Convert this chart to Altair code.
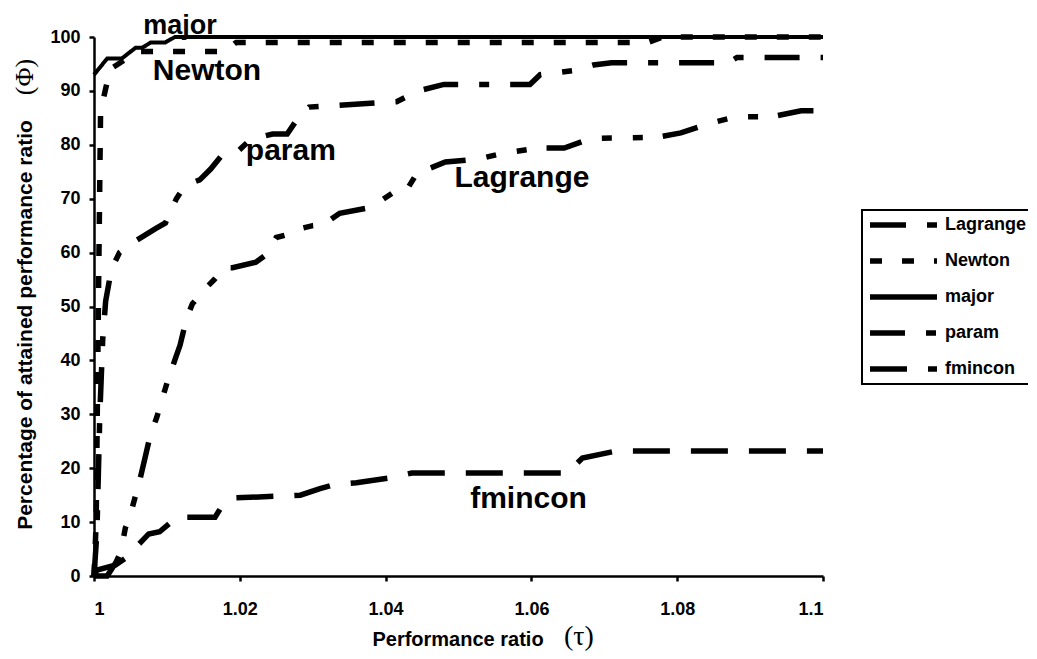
import altair as alt
import pandas as pd

methods = ["Lagrange", "Newton", "major", "param", "fmincon"]

major_tau = [1.0, 1.0018, 1.0038, 1.0057, 1.0066, 1.0078, 1.0098, 1.0111, 1.1]
major_phi = [93, 96, 96, 98, 98, 99, 99, 100, 100]

newton_tau = [1.0, 1.0003, 1.0006, 1.0009, 1.0012, 1.0022, 1.0045, 1.006, 1.018, 1.0195, 1.076, 1.078, 1.1]
newton_phi = [0, 10, 50, 86, 88, 94, 96, 97.3, 97.3, 99, 99, 100, 100]

param_tau = [1.0, 1.0004, 1.0008, 1.0012, 1.0016, 1.0024, 1.0035, 1.0055, 1.0085, 1.0098,
             1.0113, 1.0125, 1.0145, 1.016, 1.0175, 1.0195, 1.0215, 1.0245, 1.0265, 1.028,
             1.0295, 1.0415, 1.0445, 1.048, 1.0598, 1.0612, 1.066, 1.0685, 1.071, 1.087,
             1.0882, 1.1]
param_phi = [0, 8, 30, 44, 51, 57, 60, 62, 64.5, 65.5,
             70, 72.5, 73.5, 75.5, 78, 78.5, 81, 82, 82, 85,
             87, 88, 90, 91.2, 91.2, 93, 93.8, 94.8, 95.2, 95.2,
             96.2, 96.2]

lagrange_tau = [1.0, 1.0018, 1.0023, 1.003, 1.0037, 1.0043, 1.0049, 1.0058, 1.0062, 1.007,
                1.0077, 1.0086, 1.0097, 1.0101, 1.0113, 1.0118, 1.0127, 1.0135, 1.0154, 1.0165,
                1.0179, 1.019, 1.0222, 1.0235, 1.025, 1.027, 1.0275, 1.03, 1.0315, 1.0337,
                1.038, 1.0411, 1.0427, 1.0443, 1.0482, 1.0525, 1.056, 1.061, 1.0645, 1.0682,
                1.0772, 1.0805, 1.0845, 1.088, 1.093, 1.097, 1.1]
lagrange_phi = [0, 0, 1, 2.5, 4.6, 8.9, 11, 15.4, 17.3, 21.9,
                26, 29.4, 34.4, 36.2, 40.9, 42.8, 47.8, 50.5, 53.5, 55,
                57.2, 57.2, 58.2, 59.5, 62.8, 63.5, 64.2, 65, 65.2, 67.3,
                68.4, 71.2, 71.2, 74.7, 76.8, 77.3, 78.4, 79.4, 79.4, 81.2,
                81.4, 82.2, 84, 85.2, 85.2, 86.3, 86.3]

fmincon_tau = [1.0, 1.0004, 1.0029, 1.0045, 1.0063, 1.0075, 1.009, 1.0104, 1.0112, 1.0166,
               1.0178, 1.0195, 1.0251, 1.0283, 1.031, 1.0328, 1.036, 1.0406, 1.0436, 1.0649,
               1.067, 1.0717, 1.1]
fmincon_phi = [0, 1.1, 2, 3.5, 6.1, 7.8, 8.2, 9.8, 10.9, 10.9,
               13.5, 14.5, 14.8, 15, 16.2, 16.9, 17.3, 18.2, 19.1, 19.1,
               21.9, 23.2, 23.2]

x_ticks = [1.0, 1.02, 1.04, 1.06, 1.08, 1.1]
y_ticks = [0, 10, 20, 30, 40, 50, 60, 70, 80, 90, 100]

ann_labels = ["Newton", "param", "Lagrange", "fmincon"]
ann_tau = [1.0155, 1.027, 1.0587, 1.0596]
ann_phi = [92.0, 77.2, 72.2, 12.6]
top_label = ["major"]
top_tau = [1.0118]
top_phi = [100.5]

dash_range = [[36, 21, 10, 21, 10, 20], [12, 20], [1, 0], [35, 21, 10, 21], [37, 21]]

rows = []
for m, ts, ps in [("Lagrange", lagrange_tau, lagrange_phi), ("Newton", newton_tau, newton_phi),
                  ("major", major_tau, major_phi), ("param", param_tau, param_phi),
                  ("fmincon", fmincon_tau, fmincon_phi)]:
    for i, (t, p) in enumerate(zip(ts, ps)):
        rows.append({"method": m, "tau": t, "phi": p, "ord": i})
df = pd.DataFrame(rows)

FONT = "Liberation Sans"

x_enc = alt.X("tau:Q", scale=alt.Scale(domain=[1.0, 1.1], nice=False, zero=False),
              axis=alt.Axis(values=x_ticks, format=".3~g", title=None, labelPadding=19))
y_enc = alt.Y("phi:Q", scale=alt.Scale(domain=[0, 100], nice=False),
              axis=alt.Axis(values=y_ticks, title=None, labelPadding=9))

legend = alt.Legend(title=None, orient="none", legendX=768, legendY=173,
                    symbolType="stroke", symbolSize=67 * 67, symbolStrokeWidth=5.5,
                    symbolStrokeColor="black", labelFont=FONT, labelFontWeight="bold",
                    labelFontSize=18, labelColor="black", labelOffset=5,
                    strokeColor="black", fillColor="white", padding=5,
                    rowPadding=16, clipHeight=20, symbolOffset=0)

dash_enc = alt.StrokeDash("method:N", scale=alt.Scale(domain=methods, range=dash_range),
                          legend=legend)

base = alt.Chart(df)
dashed = base.transform_filter(alt.datum.method != "major").mark_line(
    color="black", strokeWidth=5.5, strokeCap="butt", strokeJoin="miter"
).encode(x=x_enc, y=y_enc, strokeDash=dash_enc, order=alt.Order("ord:Q"))

solid = base.transform_filter(alt.datum.method == "major").mark_line(
    color="black", strokeWidth=4, strokeCap="butt", strokeJoin="miter"
).encode(x=x_enc, y=y_enc, strokeDash=dash_enc, order=alt.Order("ord:Q"))

ann = pd.DataFrame({"label": ann_labels, "tau": ann_tau, "phi": ann_phi})
texts = alt.Chart(ann).mark_text(font=FONT, fontWeight="bold", fontSize=30, color="black",
                                 align="center", baseline="alphabetic").encode(
    x="tau:Q", y="phi:Q", text="label:N")

top_ann = pd.DataFrame({"label": top_label, "tau": top_tau, "phi": top_phi})
top_text = alt.Chart(top_ann).mark_text(font=FONT, fontWeight="bold", fontSize=27, color="black",
                                        align="center", baseline="alphabetic").encode(
    x="tau:Q", y="phi:Q", text="label:N")

one = pd.DataFrame({"a": [0]})
ytitle = alt.Chart(one).mark_text(font=FONT, fontWeight="bold", fontSize=21, color="black",
                                  angle=270, align="center", baseline="middle",
                                  text="Percentage of attained performance ratio").encode(
    x=alt.value(-68), y=alt.value(288))
yphi = alt.Chart(one).mark_text(font="Liberation Serif", fontSize=26, color="black",
                                angle=270, align="center", baseline="middle",
                                text="(\u03a6)").encode(x=alt.value(-69), y=alt.value(40))
xtitle = alt.Chart(one).mark_text(font=FONT, fontWeight="bold", fontSize=20, color="black",
                                  align="center", baseline="alphabetic",
                                  text="Performance ratio").encode(
    x=alt.value(364), y=alt.value(609))
xtau = alt.Chart(one).mark_text(font="Liberation Serif", fontSize=28, color="black",
                                align="center", baseline="alphabetic",
                                text="(\u03c4)").encode(x=alt.value(485), y=alt.value(608))

chart = alt.layer(dashed, solid, texts, top_text, ytitle, yphi, xtitle, xtau).properties(
    width=729, height=539,
    padding={"left": 86, "top": 29, "right": 205, "bottom": 75},
    autosize=alt.AutoSizeParams(type="none"),
).configure_view(strokeWidth=0).configure_axis(
    grid=False, domainColor="black", domainWidth=2.5, tickColor="black", tickWidth=2.5,
    tickSize=5, labelFont=FONT, labelFontWeight="bold", labelFontSize=18, labelColor="black"
).configure_legend(strokeWidth=2)

chart.save("out.html", embed_options={"renderer": "svg", "actions": False})
